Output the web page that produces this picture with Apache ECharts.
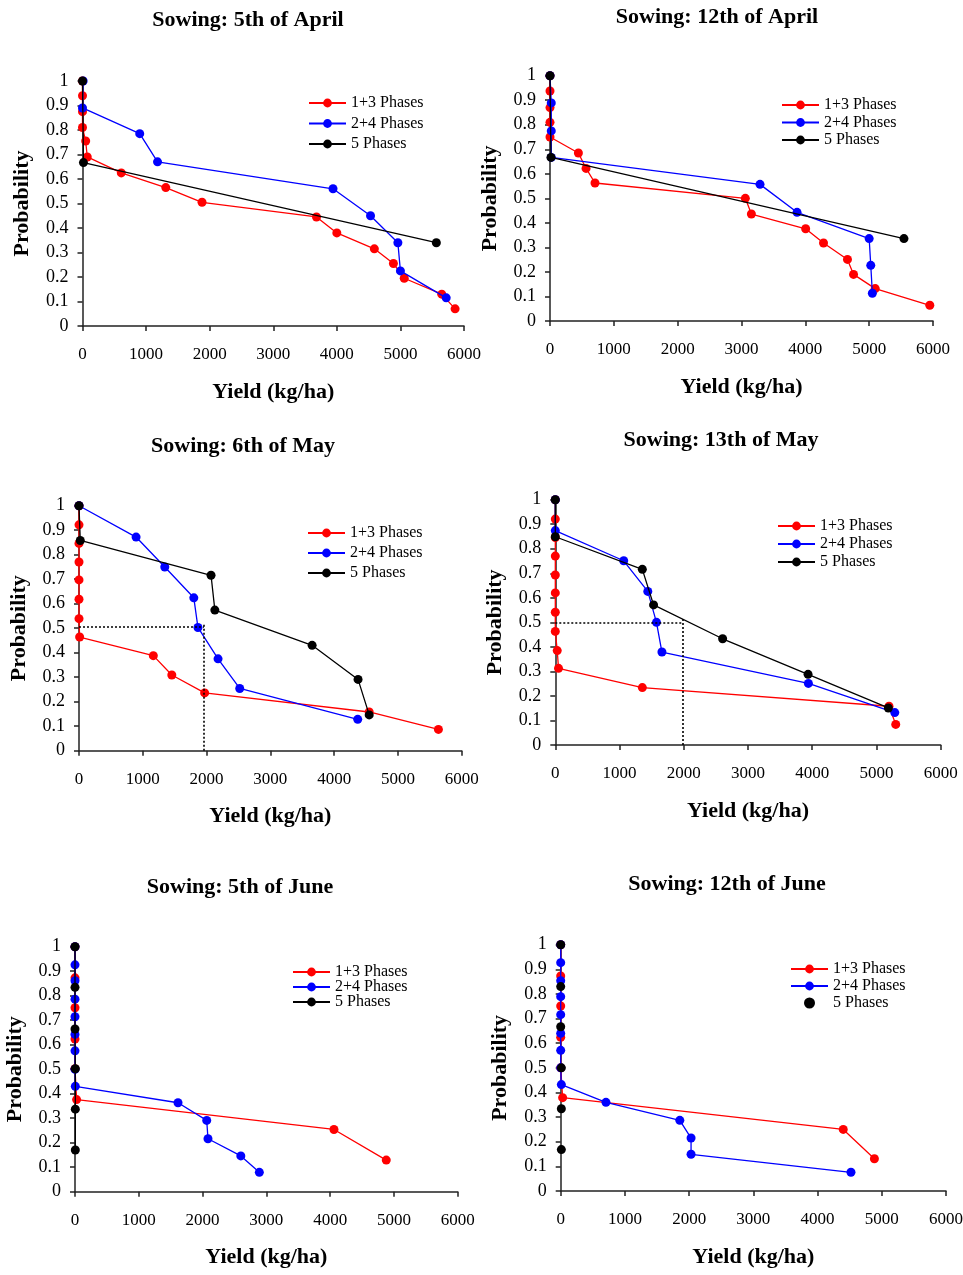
<!DOCTYPE html>
<html>
<head>
<meta charset="utf-8">
<script src="https://cdn.jsdelivr.net/npm/echarts@6/dist/echarts.min.js"></script>
<style>
  html, body { margin: 0; padding: 0; background: #ffffff; }
  #chart { width: 963px; height: 1275px; }
</style>
</head>
<body>
<div id="chart"></div>
<script>
// Cumulative probability of exceeding a given yield (kg/ha) for each sowing date.
// Each point is [yield, probability].

const seriesLabels = ['1+3 Phases', '2+4 Phases', '5 Phases'];
const xTicks = [0, 1000, 2000, 3000, 4000, 5000, 6000];
const yTicks = [0, 0.1, 0.2, 0.3, 0.4, 0.5, 0.6, 0.7, 0.8, 0.9, 1];

// Sowing: 5th of April
const apr5Phases13 = [[0, 1], [0, 0.94], [0, 0.875], [0, 0.81], [50, 0.755], [75, 0.69], [610, 0.625],
  [1310, 0.565], [1880, 0.505], [3680, 0.445], [4000, 0.38], [4590, 0.315], [4890, 0.255],
  [5060, 0.195], [5650, 0.13], [5860, 0.07]];
const apr5Phases24 = [[10, 1], [0, 0.89], [900, 0.785], [1180, 0.67], [3940, 0.56], [4530, 0.45],
  [4960, 0.34], [5000, 0.225], [5720, 0.115]];
const apr5Phases5 = [[0, 1], [15, 0.667], [5565, 0.34]];

// Sowing: 12th of April
const apr12Phases13 = [[0, 1], [0, 0.9375], [0, 0.87], [0, 0.81], [0, 0.75], [445, 0.685], [565, 0.622],
  [705, 0.5625], [3060, 0.5], [3155, 0.436], [4005, 0.376], [4285, 0.318], [4660, 0.251],
  [4755, 0.19], [5095, 0.132], [5950, 0.064]];
const apr12Phases24 = [[0, 1], [20, 0.889], [20, 0.775], [20, 0.667], [3290, 0.557], [3870, 0.443],
  [5000, 0.336], [5025, 0.227], [5050, 0.113]];
const apr12Phases5 = [[0, 1], [15, 0.667], [5545, 0.336]];

// Sowing: 6th of May
const may6Phases13 = [[0, 1], [0, 0.922], [0, 0.846], [0, 0.77], [0, 0.697], [0, 0.618], [0, 0.539],
  [10, 0.464], [1165, 0.388], [1455, 0.309], [1970, 0.236], [4550, 0.158], [5635, 0.087]];
const may6Phases24 = [[0, 1], [895, 0.872], [1345, 0.75], [1800, 0.624], [1865, 0.503], [2180, 0.375],
  [2520, 0.254], [4370, 0.128]];
const may6Phases5 = [[0, 1], [20, 0.858], [2070, 0.716], [2130, 0.574], [3655, 0.43], [4375, 0.291],
  [4550, 0.146]];
const may6Median = [1960, 0.505, 0.52]; // yield, probability, top of the dotted drop line

// Sowing: 13th of May
const may13Phases13 = [[0, 1], [0, 0.921], [0, 0.846], [0, 0.77], [0, 0.693], [0, 0.62], [0, 0.541],
  [0, 0.463], [30, 0.385], [50, 0.3125], [1355, 0.234], [5195, 0.158], [5300, 0.084]];
const may13Phases24 = [[0, 1], [0, 0.874], [1065, 0.751], [1440, 0.626], [1575, 0.5], [1660, 0.379],
  [3940, 0.251], [5285, 0.132]];
const may13Phases5 = [[0, 1], [0, 0.849], [1355, 0.716], [1530, 0.571], [2605, 0.433], [3935, 0.288],
  [5185, 0.151]];
const may13Median = [1990, 0.5, 0.519];

// Sowing: 5th of June
const jun5Phases13 = [[0, 1], [0, 0.873], [0, 0.751], [0, 0.623], [0, 0.502], [25, 0.376], [4060, 0.254],
  [4880, 0.129]];
const jun5Phases24 = [[0, 1], [0, 0.926], [0, 0.861], [0, 0.786], [0, 0.714], [0, 0.642], [0, 0.575],
  [0, 0.5], [5, 0.43], [1615, 0.363], [2065, 0.291], [2085, 0.216], [2600, 0.146], [2890, 0.079]];
const jun5Phases5 = [[0, 1], [0, 0.834], [0, 0.664], [5, 0.502], [5, 0.337], [5, 0.17]];

// Sowing: 12th of June (5 Phases shown as points only)
const jun12Phases13 = [[0, 1], [0, 0.873], [0, 0.751], [0, 0.624], [0, 0.5], [30, 0.379], [4400, 0.25],
  [4885, 0.131]];
const jun12Phases24 = [[0, 1], [0, 0.927], [0, 0.854], [0, 0.789], [0, 0.716], [0, 0.64], [0, 0.571],
  [0, 0.5], [10, 0.432], [705, 0.36], [1855, 0.287], [2030, 0.215], [2030, 0.149], [4520, 0.076]];
const jun12Phases5 = [[0, 1], [0, 0.83], [0, 0.667], [10, 0.5], [10, 0.334], [10, 0.168]];

const colors = ['#ff0000', '#0000ff', '#000000'];
const serif = 'Liberation Serif, Times New Roman, serif';

const panels = [
  { title: 'Sowing: 5th of April', data: [apr5Phases13, apr5Phases24, apr5Phases5], pointsOnly5: false,
    grid: { left: 82.5, top: 81, width: 381.5, height: 245 }, titleAt: [248, 9],
    legend: { left: 308, top: 95, itemGap: 4.5 } },
  { title: 'Sowing: 12th of April', data: [apr12Phases13, apr12Phases24, apr12Phases5], pointsOnly5: false,
    grid: { left: 550, top: 75.7, width: 383, height: 245.3 }, titleAt: [717, 6],
    legend: { left: 781, top: 97, itemGap: 1.5 } },
  { title: 'Sowing: 6th of May', data: [may6Phases13, may6Phases24, may6Phases5], pointsOnly5: false,
    median: may6Median,
    grid: { left: 79, top: 505.7, width: 382.7, height: 245 }, titleAt: [243, 435],
    legend: { left: 307, top: 525, itemGap: 4 } },
  { title: 'Sowing: 13th of May', data: [may13Phases13, may13Phases24, may13Phases5], pointsOnly5: false,
    median: may13Median,
    grid: { left: 555.3, top: 499.7, width: 385.4, height: 245.3 }, titleAt: [721, 429],
    legend: { left: 777, top: 518, itemGap: 2 } },
  { title: 'Sowing: 5th of June', data: [jun5Phases13, jun5Phases24, jun5Phases5], pointsOnly5: false,
    grid: { left: 75, top: 946.7, width: 382.7, height: 245 }, titleAt: [240, 876],
    legend: { left: 292, top: 964, itemGap: -1 } },
  { title: 'Sowing: 12th of June', data: [jun12Phases13, jun12Phases24, jun12Phases5], pointsOnly5: true,
    grid: { left: 560.7, top: 944.7, width: 385.3, height: 246.3 }, titleAt: [727, 873],
    legend: { left: 790, top: 961, itemGap: 1 } }
];

const titles = [], grids = [], xAxes = [], yAxes = [], legends = [], series = [];

panels.forEach((p, i) => {
  titles.push({
    text: p.title, left: p.titleAt[0], top: p.titleAt[1], textAlign: 'center', padding: 0,
    textStyle: { fontFamily: serif, fontSize: 22, fontWeight: 'bold', color: '#000' }
  });
  grids.push(Object.assign({ outerBoundsMode: 'none', containLabel: false }, p.grid));
  xAxes.push({
    type: 'value', gridIndex: i, min: xTicks[0], max: xTicks[xTicks.length - 1],
    interval: xTicks[1] - xTicks[0],
    name: 'Yield (kg/ha)', nameLocation: 'middle', nameGap: 55,
    nameTextStyle: { fontFamily: serif, fontSize: 22, fontWeight: 'bold', color: '#000' },
    axisLine: { show: true, onZero: false, lineStyle: { color: '#222', width: 1.5 } },
    axisTick: { show: true, inside: false, length: 5, lineStyle: { color: '#222', width: 1.5 } },
    axisLabel: { show: true, margin: 20, fontFamily: serif, fontSize: 17, color: '#000',
      showMinLabel: true, showMaxLabel: true, hideOverlap: false,
      formatter: v => String(Math.round(v)) },
    splitLine: { show: false }
  });
  yAxes.push({
    type: 'value', gridIndex: i, min: yTicks[0], max: yTicks[yTicks.length - 1],
    interval: 0.1,
    name: 'Probability', nameLocation: 'middle', nameGap: 49,
    nameTextStyle: { fontFamily: serif, fontSize: 22, fontWeight: 'bold', color: '#000' },
    axisLine: { show: true, onZero: false, lineStyle: { color: '#222', width: 1.5 } },
    axisTick: { show: true, inside: false, length: 5, lineStyle: { color: '#222', width: 1.5 } },
    axisLabel: { show: true, margin: 14, fontFamily: serif, fontSize: 18, color: '#000',
      showMinLabel: true, showMaxLabel: true, hideOverlap: false,
      formatter: v => String(Math.round(v * 10) / 10) },
    splitLine: { show: false }
  });

  const names = seriesLabels.map(l => l + ' \u00b7 ' + p.title);
  legends.push({
    data: names, orient: 'vertical', left: p.legend.left, top: p.legend.top,
    itemGap: p.legend.itemGap, itemWidth: 37, itemHeight: 11, itemTextGap: 5, padding: 0,
    selectedMode: false, inactiveColor: '#000',
    formatter: n => n.split(' \u00b7 ')[0],
    textStyle: { fontFamily: serif, fontSize: 16, color: '#000' }
  });

  p.data.forEach((d, k) => {
    const pointsOnly = k === 2 && p.pointsOnly5;
    const s = {
      name: names[k], type: pointsOnly ? 'scatter' : 'line', xAxisIndex: i, yAxisIndex: i,
      data: d, symbol: 'circle', symbolSize: 9, clip: false, animation: false,
      itemStyle: { color: colors[k], opacity: 1 }, z: 2 + k
    };
    if (!pointsOnly) {
      s.showAllSymbol = true;
      s.lineStyle = { color: colors[k], width: 1.3 };
      s.emphasis = { disabled: true };
    }
    if (k === 0 && p.median) {
      const m = p.median;
      s.markLine = {
        silent: true, symbol: 'none', animation: false, label: { show: false },
        lineStyle: { type: [2, 2], color: '#000', width: 1.6 },
        data: [
          [{ coord: [0, m[1]] }, { coord: [m[0], m[1]] }],
          [{ coord: [m[0], 0] }, { coord: [m[0], m[2]] }]
        ]
      };
    }
    series.push(s);
  });
});

const chart = echarts.init(document.getElementById('chart'), null, { renderer: 'canvas' });
chart.setOption({
  backgroundColor: '#ffffff',
  animation: false,
  title: titles,
  grid: grids,
  xAxis: xAxes,
  yAxis: yAxes,
  legend: legends,
  series: series
});
</script>
</body>
</html>
